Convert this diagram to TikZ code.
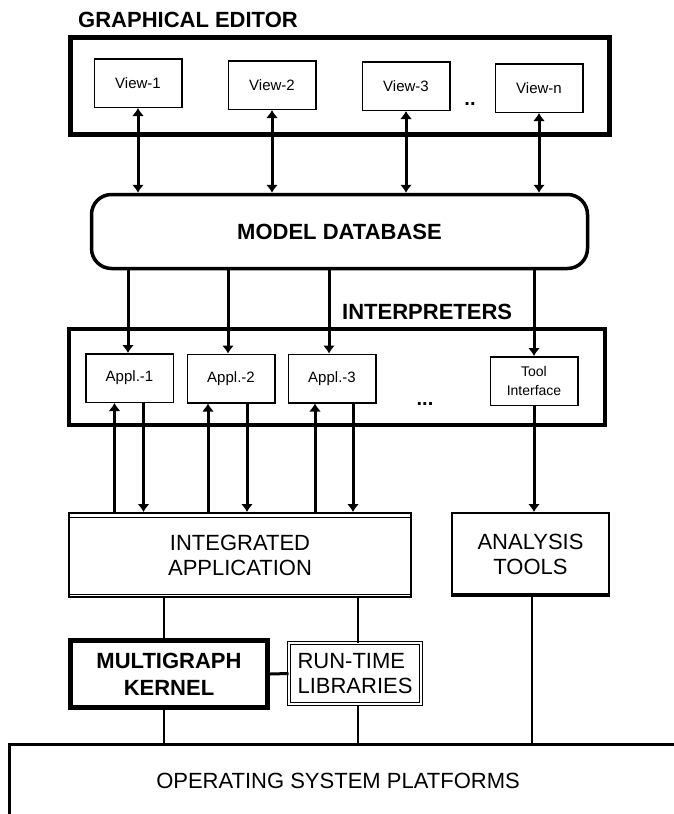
\documentclass[tikz,border=0pt]{standalone}
\usepackage{fontspec}
\setmainfont{Liberation Sans}
\usetikzlibrary{arrows.meta}
\tikzset{
  bigbox/.style   = {shape=rectangle, draw, line width=5pt, inner sep=0pt},
  viewbox/.style  = {shape=rectangle, draw, line width=1.5pt, inner sep=0pt,
                     minimum width=87.5pt, minimum height=48.5pt,
                     font=\fontsize{15}{17}\selectfont},
  toolbox/.style  = {viewbox, align=center, font=\fontsize{14}{19}\selectfont},
  heading/.style  = {inner sep=0pt, font=\fontsize{22}{26}\selectfont\bfseries},
  dbbox/.style    = {shape=rectangle, draw, line width=3.5pt, rounded corners=20pt,
                     minimum width=496pt, minimum height=74pt,
                     font=\fontsize{22}{26}\selectfont\bfseries},
  appbox/.style   = {shape=rectangle, draw, line width=2pt, align=center, inner sep=0pt,
                     font=\fontsize{22}{25}\selectfont},
  kernbox/.style  = {appbox, line width=5pt, font=\fontsize{22}{27}\selectfont\bfseries},
  libbox/.style   = {appbox, line width=1pt, double, double distance=2pt, align=left},
  plaintext/.style= {inner sep=0pt, font=\fontsize{22}{26}\selectfont},
  dots/.style     = {inner sep=0pt, font=\fontsize{20}{24}\selectfont\bfseries},
  link/.style     = {line width=3pt, -{Latex[length=8pt,width=12pt]}},
  duplex/.style   = {line width=3pt, {Latex[length=8pt,width=12pt]}-{Latex[length=8pt,width=12pt]}},
  wire/.style     = {line width=1.3pt},
  bus/.style      = {line width=2.5pt}
}

\begin{document}
\begin{tikzpicture}[x=1pt, y=-1pt]
  \useasboundingbox (0,0) rectangle (674,814);
  \clip (0,0) rectangle (674,814);

  % graphical editor
  \node [heading, anchor=base west] (edtitle) at (78,27) {GRAPHICAL EDITOR};
  \node [bigbox, minimum width=539pt, minimum height=97pt] (editor) at (340,86) {};
  \node [viewbox] (v1) at (138,83) {View-1};
  \node [viewbox] (v2) at (272,85) {View-2};
  \node [viewbox] (v3) at (406,86) {View-3};
  \node [viewbox] (vn) at (539,88) {View-n};
  \node [dots, anchor=base] (vdots) at (470,105) {..};

  % model database
  \node [dbbox] (db) at (339.5,231.5) {MODEL DATABASE};

  % interpreters
  \node [heading, anchor=base west] (intitle) at (342,319) {INTERPRETERS};
  \node [bigbox, line width=4pt, minimum width=536pt, minimum height=96pt] (interp) at (337,377) {};
  \node [viewbox] (a1) at (129.5,378) {Appl.-1};
  \node [viewbox] (a2) at (231,378.5) {Appl.-2};
  \node [viewbox] (a3) at (332,378.5) {Appl.-3};
  \node [toolbox] (tool) at (534,381) {Tool\\Interface};
  \node [dots, anchor=base] (idots) at (425,405) {...};

  % applications
  \node [appbox, minimum width=342pt, minimum height=84pt] (integ) at (240,555) {INTEGRATED\\APPLICATION};
  \draw [line width=1pt] ([yshift=-5pt]integ.north west) -- ([yshift=-5pt]integ.north east);
  \draw [line width=1pt] ([yshift=4pt]integ.south west) -- ([yshift=4pt]integ.south east);
  \node [appbox, minimum width=157pt, minimum height=83pt] (an) at (530.5,554.5) {ANALYSIS\\TOOLS};
  \draw [line width=4pt] ([yshift=2pt]an.south west) -- ([yshift=2pt]an.south east);

  % kernel and libraries
  \node [kernbox, minimum width=197pt, minimum height=67pt] (kernel) at (169,674) {MULTIGRAPH\\KERNEL};
  \node [libbox, minimum width=132pt, minimum height=61pt] (rt) at (355,673.5) {RUN-TIME\\LIBRARIES};

  % operating system
  \node [shape=rectangle, draw, line width=2.5pt, minimum width=709.5pt, minimum height=95.5pt] (os) at (364,792) {};
  \node [plaintext] (ostext) at (338,781) {OPERATING SYSTEM PLATFORMS};

  % editor <-> database
  \draw [duplex] (v1.south) -- (v1.south |- db.north);
  \draw [duplex] (v2.south) -- (v2.south |- db.north);
  \draw [duplex] (v3.south) -- (v3.south |- db.north);
  \draw [duplex] (vn.south) -- (vn.south |- db.north);

  % database -> interpreters
  \draw [link] ([xshift=-1.5pt]a1.north |- db.south) -- ([xshift=-1.5pt]a1.north);
  \draw [link] ([xshift=-3pt]a2.north |- db.south) -- ([xshift=-3pt]a2.north);
  \draw [link] ([xshift=-3pt]a3.north |- db.south) -- ([xshift=-3pt]a3.north);
  \draw [link] (tool.north |- db.south) -- (tool.north);

  % interpreters <-> integrated application
  \draw [link] ([xshift=-15pt]a1.south |- integ.north) -- ([xshift=-15pt]a1.south);
  \draw [link] ([xshift=14pt]a1.south) -- ([xshift=14pt]a1.south |- integ.north);
  \draw [link] ([xshift=-23pt]a2.south |- integ.north) -- ([xshift=-23pt]a2.south);
  \draw [link] ([xshift=16pt]a2.south) -- ([xshift=16pt]a2.south |- integ.north);
  \draw [link] ([xshift=-17pt]a3.south |- integ.north) -- ([xshift=-17pt]a3.south);
  \draw [link] ([xshift=21pt]a3.south) -- ([xshift=21pt]a3.south |- integ.north);
  \draw [link] (tool.south) -- (tool.south |- an.north);

  % lower layers
  \draw [bus] ([xshift=-5pt]kernel.north) -- ([xshift=-5pt]kernel.north |- integ.south);
  \draw [wire] ([xshift=3pt]rt.north) -- ([xshift=3pt]rt.north |- integ.south);
  \draw [line width=3pt] (kernel.east) -- (rt.west);
  \draw [wire] ([xshift=-5pt]kernel.south) -- ([xshift=-5pt]kernel.south |- os.north);
  \draw [wire] ([xshift=3pt]rt.south) -- ([xshift=3pt]rt.south |- os.north);
  \draw [bus] ([xshift=1.5pt]an.south) -- ([xshift=1.5pt]an.south |- os.north);
\end{tikzpicture}
\end{document}
